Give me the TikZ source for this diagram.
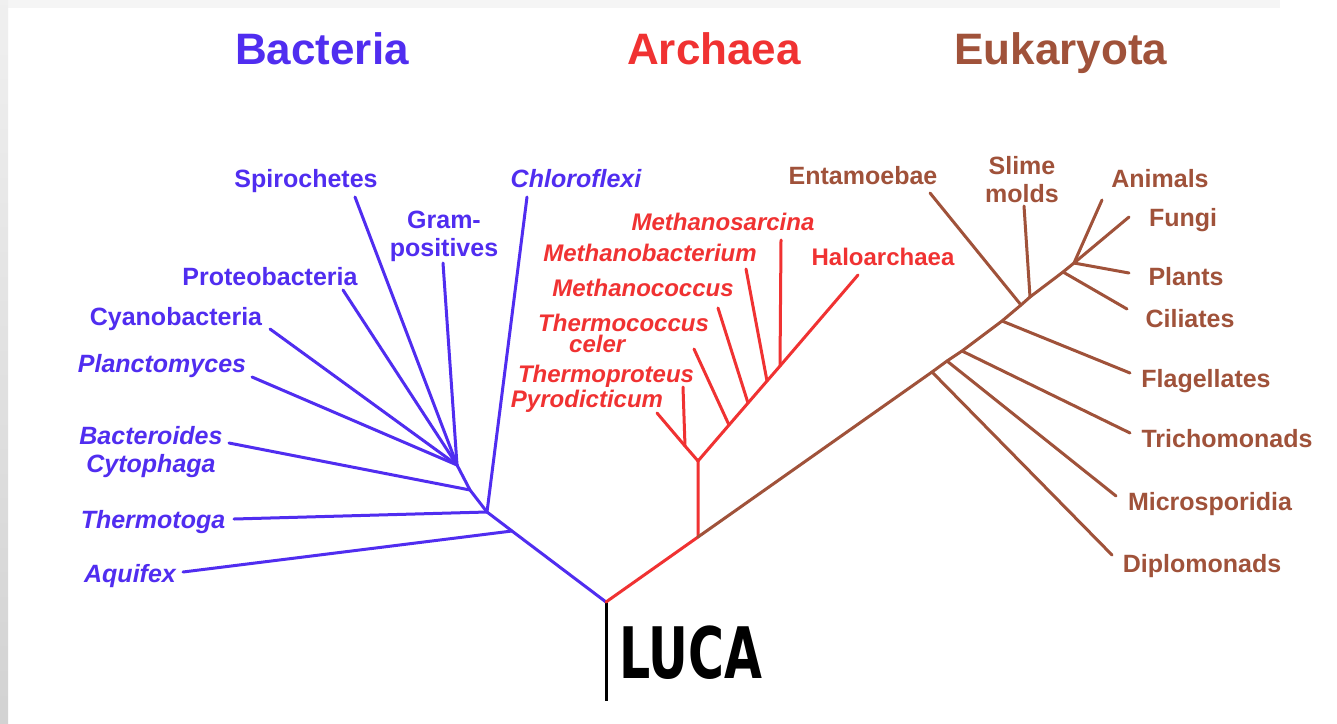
\documentclass[tikz,border=0pt]{standalone}
\usepackage{fontspec}
\setmainfont{Liberation Sans}
\newfontfamily\lucafont{DejaVu Sans}[FakeStretch=0.69]
\definecolor{bact}{RGB}{80,45,240}
\definecolor{arch}{RGB}{240,50,50}
\definecolor{euk}{RGB}{160,82,58}
\begin{document}
\begin{tikzpicture}[x=1pt,y=-1pt,
  lbl/.style={inner sep=0pt, anchor=base, font=\bfseries\fontsize{25}{28}\selectfont},
  ilbl/.style={lbl, font=\bfseries\itshape\fontsize{25}{28}\selectfont},
  rlbl/.style={inner sep=0pt, anchor=base, font=\bfseries\fontsize{24}{26}\selectfont},
  rilbl/.style={rlbl, font=\bfseries\itshape\fontsize{24}{26}\selectfont},
  twolbl/.style={inner sep=0pt, anchor=north, align=center, font=\bfseries\fontsize{25}{28}\selectfont},
  title/.style={inner sep=0pt, anchor=base, font=\bfseries\fontsize{44}{48}\selectfont},
  branch/.style={line width=3pt, line cap=round, line join=round}]
\useasboundingbox (0,0) rectangle (1337,723);
\fill[white] (0,0) rectangle (1337,723);
\fill[gray!8] (0,0) rectangle (1280,8);
\shade[top color=gray!12, bottom color=gray!35] (0,0) rectangle (8,723);

% titles
\node[title, text=bact] (tbact) at (322,64) {Bacteria};
\node[title, text=arch] (tarch) at (714,64) {Archaea};
\node[title, text=euk] (teuk) at (1061,64) {Eukaryota};

% LUCA
\coordinate (luca) at (606,602);
\coordinate (lucabot) at (606,701);
\draw[line width=3pt, black] (luca) -- (lucabot);
\node[inner sep=0pt, anchor=base west, font=\lucafont\bfseries\fontsize{71}{75}\selectfont] (lucalbl) at (619,678) {LUCA};

% ---------------- Bacteria ----------------
\coordinate (bAq) at (512,531);
\coordinate (bTh) at (487,512);
\coordinate (bBa) at (470,490);
\coordinate (bGr) at (457,465);
\coordinate (tAq) at (183,572);
\coordinate (tTh) at (234,519);
\coordinate (tCh) at (527,197);
\coordinate (tBa) at (229,443);
\coordinate (tGr) at (443,263);
\coordinate (tSp) at (355,197);
\coordinate (tPr) at (343,290);
\coordinate (tCy) at (270,329);
\coordinate (tPl) at (252,377);
\begin{scope}[branch, draw=bact]
\draw (luca) -- (bAq) -- (bTh) -- (bBa) -- (bGr);
\draw (bAq) -- (tAq);
\draw (bTh) -- (tTh);
\draw (bTh) -- (tCh);
\draw (bBa) -- (tBa);
\draw (bGr) -- (tGr);
\draw (bGr) -- (tSp);
\draw (bGr) -- (tPr);
\draw (bGr) -- (tCy);
\draw (bGr) -- (tPl);
\end{scope}
\node[lbl, text=bact] (lSp) at (306,187) {Spirochetes};
\node[ilbl, text=bact] (lCh) at (576,187) {Chloroflexi};
\node[twolbl, text=bact] (lGr) at (444,211) {Gram-\\positives};
\node[lbl, text=bact] (lPr) at (270,285) {Proteobacteria};
\node[lbl, text=bact] (lCy) at (176,325) {Cyanobacteria};
\node[ilbl, text=bact] (lPl) at (162,372) {Planctomyces};
\node[twolbl, text=bact, font=\bfseries\itshape\fontsize{25}{28}\selectfont] (lBa) at (151,426) {Bacteroides\\Cytophaga};
\node[ilbl, text=bact] (lTh) at (153,528) {Thermotoga};
\node[ilbl, text=bact] (lAq) at (130,582) {Aquifex};

% ---------------- Archaea ----------------
\coordinate (aR) at (698,537);
\coordinate (aV) at (698,461);
\coordinate (tPy) at (657,413);
\coordinate (jTp) at (685,446);
\coordinate (tTp) at (683,387);
\coordinate (tHa) at (858,275);
\coordinate (j1) at (729,425);
\coordinate (t1) at (694,349);
\coordinate (j2) at (748,403);
\coordinate (t2) at (718,308);
\coordinate (j3) at (767,381);
\coordinate (t3) at (746,269);
\coordinate (j4) at (780,366);
\coordinate (t4) at (781,240);
\begin{scope}[branch, draw=arch]
\draw (luca) -- (aR) -- (aV);
\draw (aV) -- (jTp) -- (tPy);
\draw (jTp) -- (tTp);
\draw (aV) -- (j1) -- (j2) -- (j3) -- (j4) -- (tHa);
\draw (j1) -- (t1);
\draw (j2) -- (t2);
\draw (j3) -- (t3);
\draw (j4) -- (t4);
\end{scope}
\node[rilbl, text=arch] (lMs) at (723,230) {Methanosarcina};
\node[rilbl, text=arch] (lMb) at (650,261) {Methanobacterium};
\node[rlbl, text=arch] (lHa) at (883,265) {Haloarchaea};
\node[rilbl, text=arch] (lMc) at (643,296) {Methanococcus};
\node[inner sep=0pt, anchor=north west, align=left, text=arch, font=\bfseries\itshape\fontsize{24}{21}\selectfont] (lTc) at (538,314) {Thermococcus\\\hspace*{31pt}celer};
\node[rilbl, text=arch] (lTp) at (606,382) {Thermoproteus};
\node[rilbl, text=arch] (lPy) at (587,407) {Pyrodicticum};

% ---------------- Eukaryota ----------------
\coordinate (e1) at (932,372);
\coordinate (e2) at (947,361);
\coordinate (e3) at (962,351);
\coordinate (e4) at (1002,321);
\coordinate (e5) at (1021,305);
\coordinate (e6) at (1030,297);
\coordinate (e7) at (1063,272);
\coordinate (e8) at (1074,263);
\coordinate (tDi) at (1112,555);
\coordinate (tMi) at (1116,496);
\coordinate (tTr) at (1130,433);
\coordinate (tFl) at (1130,373);
\coordinate (tEn) at (930,193);
\coordinate (tSl) at (1024,206);
\coordinate (tCi) at (1127,309);
\coordinate (tAn) at (1102,200);
\coordinate (tFu) at (1129,217);
\coordinate (tPn) at (1129,273);
\begin{scope}[branch, draw=euk]
\draw (aR) -- (e1) -- (e2) -- (e3) -- (e4) -- (e5) -- (e6) -- (e7) -- (e8);
\draw (e1) -- (tDi);
\draw (e2) -- (tMi);
\draw (e3) -- (tTr);
\draw (e4) -- (tFl);
\draw (e5) -- (tEn);
\draw (e6) -- (tSl);
\draw (e7) -- (tCi);
\draw (e8) -- (tAn);
\draw (e8) -- (tFu);
\draw (e8) -- (tPn);
\end{scope}
\node[lbl, text=euk] (lEn) at (863,184) {Entamoebae};
\node[twolbl, text=euk] (lSl) at (1022,156) {Slime\\molds};
\node[lbl, text=euk] (lAn) at (1160,187) {Animals};
\node[lbl, text=euk] (lFu) at (1183,226) {Fungi};
\node[lbl, text=euk] (lPn) at (1186,285) {Plants};
\node[lbl, text=euk] (lCi) at (1190,327) {Ciliates};
\node[lbl, text=euk] (lFl) at (1206,387) {Flagellates};
\node[lbl, text=euk] (lTr) at (1227,447) {Trichomonads};
\node[lbl, text=euk] (lMi) at (1210,510) {Microsporidia};
\node[lbl, text=euk] (lDi) at (1202,572) {Diplomonads};
\end{tikzpicture}
\end{document}
